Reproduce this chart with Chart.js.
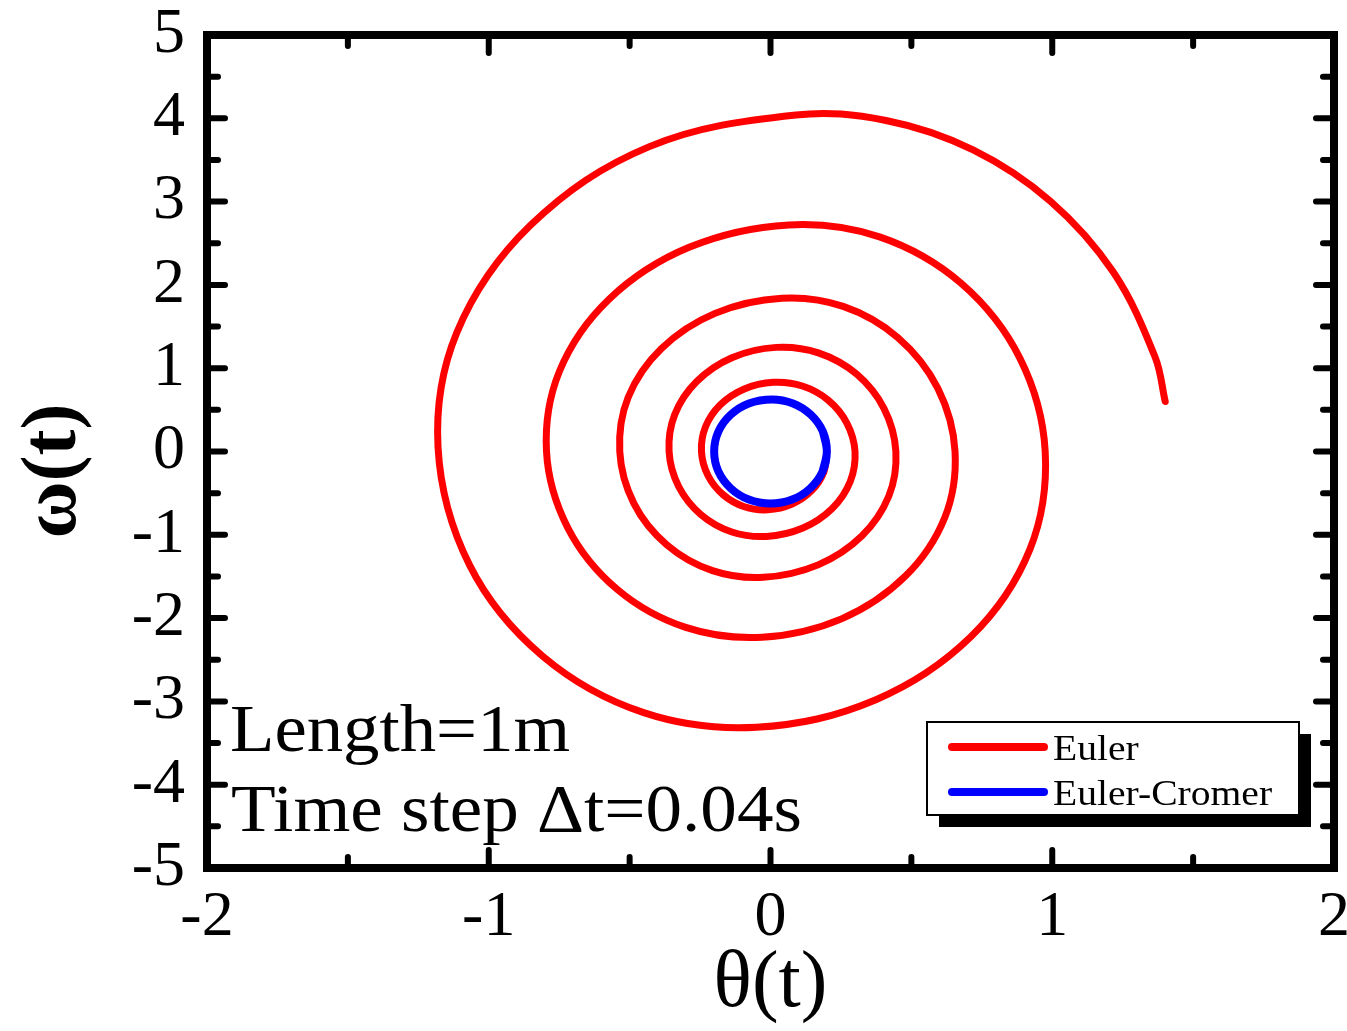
<!DOCTYPE html>
<html>
<head>
<meta charset="utf-8">
<script src="https://cdn.jsdelivr.net/npm/chart.js@4.4.0/dist/chart.umd.min.js"></script>
<style>
  html, body { margin: 0; padding: 0; background: #fff; }
  canvas { display: block; }
</style>
</head>
<body>
<canvas id="phaseChart" width="1347" height="1031"></canvas>
<script>
// values (theta in rad, omega in rad/s)
const eulerTheta = [
  0.20, 0.189, 0.146, 0.077, -0.01, -0.093, -0.168, -0.222, -0.245,
  -0.231, -0.179, -0.095, 0.01, 0.113, 0.205, 0.271, 0.30,
  0.283, 0.219, 0.115, -0.015, -0.137, -0.247, -0.326, -0.36,
  -0.340, -0.262, -0.137, 0.02, 0.170, 0.306, 0.403, 0.445,
  0.420, 0.324, 0.169, -0.025, -0.206, -0.368, -0.485, -0.535,
  -0.505, -0.387, -0.197, 0.04, 0.258, 0.453, 0.594, 0.655,
  0.619, 0.478, 0.252, -0.03, -0.301, -0.544, -0.719, -0.795,
  -0.749, -0.573, -0.289, 0.065, 0.387, 0.677, 0.885, 0.975,
  0.921, 0.711, 0.372, -0.05, -0.450, -0.809, -1.068, -1.18,
  -1.113, -0.852, -0.43, 0.09,
  0.410, 0.719, 0.994, 1.216, 1.365, 1.401
];
const eulerOmega = [
  0, -0.248, -0.470, -0.631, -0.70, -0.663, -0.519, -0.288, 0,
  0.294, 0.558, 0.748, 0.83, 0.786, 0.616, 0.342, 0,
  -0.361, -0.685, -0.919, -1.02, -0.966, -0.757, -0.420, 0,
  0.443, 0.840, 1.126, 1.25, 1.184, 0.928, 0.515, 0,
  -0.535, -1.015, -1.361, -1.51, -1.430, -1.120, -0.622, 0,
  0.651, 1.236, 1.658, 1.84, 1.742, 1.365, 0.758, 0,
  -0.789, -1.499, -2.009, -2.23, -2.112, -1.655, -0.919, 0,
  0.963, 1.828, 2.451, 2.72, 2.576, 2.018, 1.121, 0,
  -1.172, -2.224, -2.982, -3.31, -3.135, -2.456, -1.364, 0.05,
  1.430, 2.715, 3.66, 4.04,
  3.974, 3.621, 3.004, 2.157, 1.134, 0.600
];
// closed orbit, drawn a little past one turn so both ends blend in
const cromerTheta = [
  0.186, 0.20, 0.185, 0.141, 0.077, 0.0, -0.077, -0.141, -0.185, -0.20,
  -0.185, -0.141, -0.077, 0.005, 0.08, 0.143, 0.186, 0.20, 0.185
];
const cromerOmega = [
  0.239, 0, -0.239, -0.442, -0.577, -0.625, -0.577, -0.442, -0.239, 0,
  0.239, 0.442, 0.577, 0.625, 0.577, 0.442, 0.239, 0, -0.239
];
const seriesNames = ['Euler', 'Euler-Cromer'];
const xTicks = [-2, -1, 0, 1, 2];
const yTicks = [-5, -4, -3, -2, -1, 0, 1, 2, 3, 4, 5];
const notes = ['Length=1m', 'Time step \u0394t=0.04s'];

const serif = '"Liberation Serif", "Times New Roman", serif';

function toPoints(xs, ys) {
  return xs.map((v, i) => ({ x: v, y: ys[i] }));
}

function wideText(ctx, text, x, y, sx) {
  ctx.save();
  ctx.translate(x, y);
  ctx.scale(sx, 1);
  ctx.fillText(text, 0, 0);
  ctx.restore();
}

// frame with inward ticks on all four sides, legend box and notes
const decorations = {
  id: 'decorations',
  afterDatasetsDraw(chart) {
    const { ctx, chartArea: a, scales: { x, y } } = chart;
    ctx.save();
    ctx.strokeStyle = '#000';
    ctx.lineCap = 'round';
    ctx.lineWidth = 6;
    const majorLen = 18, minorLen = 11;
    xTicks.forEach((v) => {
      [v, v + 0.5].forEach((t, k) => {
        if (t > xTicks[xTicks.length - 1]) return;
        const px = x.getPixelForValue(t);
        const len = k === 0 ? majorLen : minorLen;
        ctx.beginPath();
        ctx.moveTo(px, a.bottom); ctx.lineTo(px, a.bottom - len);
        ctx.moveTo(px, a.top); ctx.lineTo(px, a.top + len);
        ctx.stroke();
      });
    });
    yTicks.forEach((v) => {
      [v, v + 0.5].forEach((t, k) => {
        if (t > yTicks[yTicks.length - 1]) return;
        const py = y.getPixelForValue(t);
        const len = k === 0 ? majorLen : minorLen;
        ctx.beginPath();
        ctx.moveTo(a.left, py); ctx.lineTo(a.left + len, py);
        ctx.moveTo(a.right, py); ctx.lineTo(a.right - len, py);
        ctx.stroke();
      });
    });
    ctx.lineWidth = 8;
    ctx.lineCap = 'butt';
    ctx.lineJoin = 'miter';
    ctx.strokeRect(a.left, a.top, a.right - a.left, a.bottom - a.top);

    // notes
    ctx.fillStyle = '#000';
    ctx.font = '68px ' + serif;
    ctx.textBaseline = 'alphabetic';
    ctx.textAlign = 'left';
    wideText(ctx, notes[0], 230, 751, 1.07);
    wideText(ctx, notes[1], 231, 831, 1.075);

    // legend with shadow
    const bx = 927, by = 722, bw = 372, bh = 93;
    ctx.fillStyle = '#000';
    ctx.fillRect(bx + 12, by + 12, bw, bh);
    ctx.fillStyle = '#fff';
    ctx.fillRect(bx, by, bw, bh);
    ctx.lineWidth = 2;
    ctx.strokeRect(bx, by, bw, bh);
    ctx.font = '36px ' + serif;
    chart.data.datasets.forEach((ds, i) => {
      const ly = 747 + i * 45;
      ctx.strokeStyle = ds.borderColor;
      ctx.lineWidth = 8;
      ctx.lineCap = 'round';
      ctx.beginPath();
      ctx.moveTo(952, ly); ctx.lineTo(1044, ly);
      ctx.stroke();
      ctx.fillStyle = '#000';
      wideText(ctx, ds.label, 1053, ly + 13, 1.1);
    });
    ctx.restore();
  }
};

const ctx = document.getElementById('phaseChart').getContext('2d');
const phaseChart = new Chart(ctx, {
  type: 'scatter',
  data: {
    datasets: [{
      label: seriesNames[0],
      data: toPoints(eulerTheta, eulerOmega),
      showLine: true,
      borderColor: '#ff0000',
      borderWidth: 7,
      borderCapStyle: 'round',
      borderJoinStyle: 'round',
      tension: 0.36,
      pointRadius: 0,
      order: 2
    }, {
      label: seriesNames[1],
      data: toPoints(cromerTheta, cromerOmega),
      showLine: true,
      borderColor: '#0000ff',
      borderWidth: 8,
      borderCapStyle: 'round',
      borderJoinStyle: 'round',
      tension: 0.36,
      pointRadius: 0,
      order: 1
    }]
  },
  options: {
    responsive: false,
    animation: false,
    devicePixelRatio: 1,
    layout: {
      padding: { left: 0, right: 13, top: 35, bottom: 0 }
    },
    plugins: {
      legend: { display: false },
      tooltip: { enabled: false }
    },
    scales: {
      x: {
        type: 'linear',
        min: -2,
        max: 2,
        afterBuildTicks: (s) => { s.ticks = xTicks.map(v => ({ value: v })); },
        afterFit: (s) => {
          s.height = 163;
          s.paddingLeft = 0; s.paddingRight = 0;
        },
        grid: { display: false, drawTicks: false },
        border: { display: false },
        ticks: {
          color: '#000',
          padding: 12,
          maxRotation: 0,
          font: { family: serif, size: 64 }
        },
        title: {
          display: true,
          text: '\u03b8(t)',
          color: '#000',
          padding: { top: 0, bottom: -2 },
          font: { family: serif, size: 80 }
        }
      },
      y: {
        type: 'linear',
        min: -5,
        max: 5,
        afterBuildTicks: (s) => { s.ticks = yTicks.map(v => ({ value: v })); },
        afterFit: (s) => {
          s.width = 207;
          s.paddingTop = 0; s.paddingBottom = 0;
        },
        grid: { display: false, drawTicks: false },
        border: { display: false },
        ticks: {
          color: '#000',
          padding: 22,
          font: { family: serif, size: 64 }
        },
        title: {
          display: true,
          text: '\u03c9(t)\u2002',
          color: '#000',
          padding: { top: 8, bottom: 0 },
          font: { family: serif, size: 78, weight: 'bold' }
        }
      }
    }
  },
  plugins: [decorations]
});
</script>
</body>
</html>
